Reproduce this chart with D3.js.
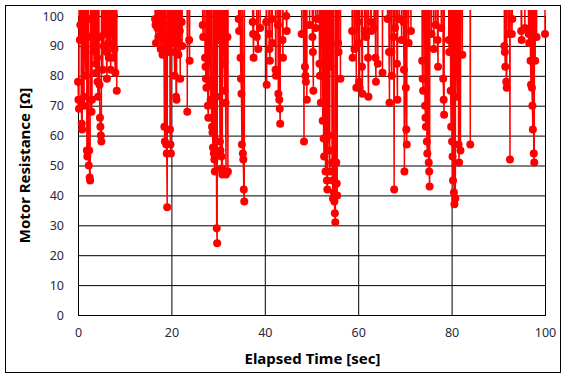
<!DOCTYPE html>
<html>
<head>
<meta charset="utf-8">
<script src="https://cdn.jsdelivr.net/npm/d3@7"></script>
<style>
  body { margin: 0; background: #fff; }
  text { font-family: "Noto Sans", "DejaVu Sans", sans-serif; }
</style>
</head>
<body>
<script>
// 200 = reading far above the axis (off chart)
const timeSec = [
  0.0, 0.1, 0.2, 0.3, 0.4, 0.5, 0.6, 0.7, 0.8, 0.9, 1.0, 1.1, 1.2, 1.3, 1.4, 1.5, 1.6, 1.7, 1.8, 1.9,
  2.0, 2.1, 2.2, 2.3, 2.4, 2.5, 2.6, 2.7, 2.8, 2.9, 3.0, 3.1, 3.3, 3.4, 3.5, 3.6, 3.7, 3.8, 3.9, 4.0,
  4.1, 4.2, 4.3, 4.4, 4.5, 4.6, 4.7, 4.8, 4.9, 5.0, 5.1, 5.3, 5.4, 5.5, 5.6, 5.8, 5.9, 6.0, 6.1, 6.2,
  6.3, 6.5, 6.6, 6.8, 6.9, 7.0, 7.1, 7.3, 7.5, 7.6, 7.7, 7.8, 8.0, 8.1, 8.3, 8.4,
  16.4, 16.5, 16.6, 16.7, 16.8, 17.0, 17.2, 17.3, 17.5, 17.7, 17.8, 18.0, 18.1, 18.2, 18.4, 18.5, 18.6, 18.7,
  18.8, 18.9, 19.0, 19.1, 19.2, 19.4, 19.5, 19.6, 19.7, 19.8, 19.9, 20.0, 20.2, 20.3, 20.4, 20.5, 20.6, 20.7,
  20.8, 20.9, 21.0, 21.1, 21.2, 21.4, 21.5, 21.6, 21.8, 21.9, 22.0, 22.2, 22.3, 22.4, 23.3, 23.4, 23.5, 23.8, 23.9, 24.0,
  26.6, 26.7, 26.8, 26.9, 27.2, 27.3, 27.4, 27.5, 27.6, 27.8, 27.9, 28.0, 28.2, 28.3, 28.4, 28.5, 28.6, 28.7,
  28.8, 28.9, 29.0, 29.1, 29.2, 29.3, 29.4, 29.6, 29.7, 29.8, 29.9, 30.0, 30.1, 30.3, 30.4, 30.5, 30.6, 30.7,
  30.8, 30.9, 31.0, 31.2, 31.3, 31.4, 31.5, 31.6, 31.7, 31.8, 32.0, 32.1, 32.2,
  34.2, 34.4, 34.5, 34.6, 34.8, 34.9, 35.0, 35.1, 35.2, 35.3, 35.4, 35.5, 35.6, 35.7,
  37.2, 37.4, 37.5, 37.6, 37.7, 38.3, 38.6, 38.7, 39.0, 39.1, 40.2, 40.3, 40.4, 40.5, 40.9, 41.0, 41.1, 41.2, 41.5,
  41.6, 41.7, 42.2, 42.3, 42.4, 42.5, 42.8, 42.9, 43.0, 43.1, 43.2, 43.3, 43.4, 43.8, 43.9, 44.0, 44.6, 44.7, 44.8,
  47.7, 47.9, 48.0, 48.4, 48.5, 48.6, 48.7, 48.8, 48.9, 49.0, 49.1, 49.6, 49.7, 50.2, 50.3, 50.4, 50.5, 50.9,
  51.0, 51.3, 51.4,
  51.6, 51.7, 51.8, 51.9, 52.0, 52.1, 52.4, 52.5, 52.6, 52.7, 52.8, 53.0, 53.1, 53.3, 53.4, 53.5, 53.7, 53.8,
  53.9, 54.0, 54.1, 54.2, 54.4, 54.5, 54.6, 54.7, 54.8, 54.9, 55.0, 55.1, 55.2, 55.3, 55.4, 55.5, 55.6, 55.7,
  55.8, 55.9, 56.2, 56.3,
  58.6, 58.7, 58.8, 58.9, 59.2, 59.3, 59.6, 59.7, 59.9, 60.0, 60.1, 60.2, 60.3, 60.4, 60.8, 60.9, 61.0, 61.4,
  61.5, 61.7, 61.8, 62.1, 62.2, 62.3, 62.7, 62.8, 62.9,
  63.4, 63.5, 63.7, 63.8, 63.9, 64.2, 64.3, 65.1, 65.2, 65.3, 66.3, 66.4, 66.6, 66.7, 66.8, 67.1, 67.2, 67.3, 67.6,
  67.7, 67.8, 67.9, 68.0, 68.3, 68.4, 68.5, 68.8, 68.9, 69.3, 69.4, 69.7, 69.8, 69.9, 70.0, 70.2, 70.3, 70.4,
  70.5, 70.8, 70.9, 71.3, 71.4,
  73.5, 73.7, 73.8, 73.9, 74.0, 74.3, 74.4, 74.5, 74.6, 74.7, 74.8, 74.9, 75.1, 75.2, 75.3, 75.4, 75.7, 75.8,
  76.2, 76.3, 76.6, 76.7, 77.0, 77.1, 77.2, 77.8, 77.9, 78.2, 78.3, 78.4, 78.5,
  79.2, 79.4, 79.5, 79.6, 79.8, 79.9, 80.0, 80.1, 80.2, 80.3, 80.4, 80.5, 80.6, 80.7, 80.8, 80.9, 81.1, 81.2,
  81.3, 81.5, 81.6, 81.7, 81.9, 82.0, 82.3, 82.4, 83.9, 84.0, 84.1,
  91.2, 91.3, 91.4, 91.5, 91.6, 91.7, 91.8, 91.9, 92.2, 92.3, 92.5, 92.6, 92.9, 93.0, 93.1,
  94.8, 94.9, 95.0, 95.1, 95.7, 95.8, 96.5, 96.6, 96.7, 96.9, 97.0, 97.1, 97.2, 97.3, 97.4, 97.5, 97.6, 97.7,
  97.8, 97.9, 98.0, 98.2, 98.3, 99.9, 100.0
]

const resistance = [
  78, 72, 69, 200, 92, 97, 200, 71, 64, 62, 200, 98, 70, 73, 200, 94, 88, 80, 200, 55,
  53, 200, 99, 50, 55, 46, 45, 200, 93, 68, 72, 200, 94, 90, 200, 97, 88, 84, 81, 200,
  86, 78, 73, 200, 93, 77, 66, 63, 60, 58, 200, 82, 200, 90, 94, 99, 200, 96, 88, 79,
  200, 91, 86, 200, 97, 82, 200, 95, 86, 200, 100, 89, 81, 200, 75, 200,
  200, 99, 97, 91, 200, 96, 93, 200, 98, 89, 200, 95, 87, 200, 92, 63, 58, 200,
  97, 57, 54, 36, 200, 90, 88, 200, 62, 57, 54, 200, 99, 93, 200, 91, 88, 80,
  200, 97, 73, 72, 200, 92, 87, 200, 95, 79, 200, 98, 90, 200, 200, 68, 200, 92, 85, 200,
  200, 97, 93, 200, 86, 83, 79, 76, 200, 70, 66, 200, 88, 78, 72, 200, 66, 63,
  61, 56, 200, 54, 52, 48, 200, 73, 29, 24, 200, 93, 200, 92, 58, 55, 200, 53,
  49, 47, 200, 90, 84, 75, 200, 71, 47, 200, 93, 48, 200,
  200, 99, 95, 200, 86, 79, 74, 57, 200, 54, 52, 42, 38, 200,
  200, 98, 94, 86, 200, 93, 89, 200, 96, 200, 200, 98, 77, 200, 94, 89, 85, 200, 99,
  91, 200, 200, 82, 80, 200, 97, 74, 200, 72, 69, 64, 200, 92, 86, 200, 100, 95, 200,
  200, 94, 200, 58, 200, 83, 80, 78, 200, 72, 200, 97, 200, 93, 88, 75, 200, 96,
  200, 99, 200,
  200, 84, 80, 200, 71, 200, 65, 200, 59, 53, 200, 48, 200, 45, 42, 200, 60, 55,
  48, 200, 83, 200, 51, 45, 39, 200, 41, 38, 34, 31, 200, 51, 44, 40, 200, 91,
  88, 200, 79, 200,
  200, 95, 86, 200, 89, 200, 76, 200, 98, 91, 200, 78, 76, 200, 83, 74, 200, 95,
  200, 93, 200, 86, 73, 200, 98, 95, 200,
  96, 200, 86, 78, 200, 84, 200, 200, 81, 200, 99, 200, 88, 71, 200, 88, 80, 200, 93,
  42, 200, 96, 200, 84, 72, 200, 99, 200, 92, 200, 98, 82, 48, 200, 76, 62, 57,
  200, 91, 200, 95, 200,
  200, 85, 79, 75, 200, 70, 66, 63, 200, 58, 54, 200, 51, 48, 43, 200, 94, 200,
  89, 200, 97, 200, 92, 83, 200, 96, 200, 79, 72, 67, 200,
  200, 92, 88, 200, 75, 63, 200, 58, 53, 45, 200, 41, 37, 200, 39, 200, 87, 73,
  200, 57, 51, 200, 55, 200, 87, 200, 200, 57, 200,
  200, 90, 88, 83, 200, 78, 76, 200, 94, 200, 52, 200, 94, 99, 200,
  200, 95, 92, 200, 96, 200, 94, 91, 200, 85, 77, 200, 76, 70, 62, 200, 54, 51,
  200, 85, 200, 93, 200, 200, 94
]

const xTicks = [0, 20, 40, 60, 80, 100]
const yTicks = [0, 10, 20, 30, 40, 50, 60, 70, 80, 90, 100]

const width = 567
const height = 379
const plotLeft = 78, plotRight = 545, plotTop = 16, plotBottom = 315

const data = timeSec.map((t, i) => ({ t: t, v: resistance[i] }))

const svg = d3.select('body')
  .append('svg')
  .attr('width', width)
  .attr('height', height)

// outer chart frame
svg.append('rect')
  .attr('x', 5.5)
  .attr('y', 5.5)
  .attr('width', 555)
  .attr('height', 367)
  .attr('fill', 'none')
  .attr('stroke', '#000')

const x = d3.scaleLinear().domain([0, 100]).range([plotLeft, plotRight])
const y = d3.scaleLinear().domain([0, 100]).range([plotBottom, plotTop])

const xAxis = svg.append('g')
  .attr('transform', `translate(0,${plotBottom})`)
  .call(d3.axisBottom(x).tickValues(xTicks).tickSize(-(plotBottom - plotTop)).tickPadding(13))
xAxis.select('.domain').remove()

const yAxis = svg.append('g')
  .attr('transform', `translate(${plotLeft},0)`)
  .call(d3.axisLeft(y).tickValues(yTicks).tickSize(-(plotRight - plotLeft)).tickPadding(14))
yAxis.select('.domain').remove()

svg.selectAll('.tick line')
  .attr('stroke', '#000')
  .attr('stroke-width', 1)
svg.selectAll('.tick text')
  .attr('fill', '#2a2a3a')
  .style('font-size', '12.5px')

svg.append('rect')
  .attr('x', plotLeft + 0.5)
  .attr('y', plotTop + 0.5)
  .attr('width', plotRight - plotLeft)
  .attr('height', plotBottom - plotTop)
  .attr('fill', 'none')
  .attr('stroke', '#000')

svg.append('clipPath')
  .attr('id', 'clip')
  .append('rect')
  .attr('x', 0)
  .attr('y', 10)
  .attr('width', width)
  .attr('height', plotBottom)

const plot = svg.append('g').attr('clip-path', 'url(#clip)')

const line = d3.line()
  .x(d => x(d.t))
  .y(d => y(d.v))

plot.append('path')
  .datum(data)
  .attr('d', line)
  .attr('fill', 'none')
  .attr('stroke', '#ff0000')
  .attr('stroke-width', 1.5)

plot.selectAll('circle')
  .data(data.filter(d => d.v <= 100))
  .enter()
  .append('circle')
  .attr('cx', d => x(d.t))
  .attr('cy', d => y(d.v))
  .attr('r', 4)
  .attr('fill', '#ff0000')

svg.append('text')
  .attr('x', (plotLeft + plotRight) / 2 + 1)
  .attr('y', 364)
  .attr('text-anchor', 'middle')
  .style('font-size', '15px')
  .style('font-weight', 'bold')
  .text('Elapsed Time [sec]')

svg.append('text')
  .attr('transform', `translate(30,${(plotTop + plotBottom) / 2}) rotate(-90)`)
  .attr('text-anchor', 'middle')
  .style('font-size', '15px')
  .style('font-weight', 'bold')
  .text('Motor Resistance [Ω]')
</script>
</body>
</html>
